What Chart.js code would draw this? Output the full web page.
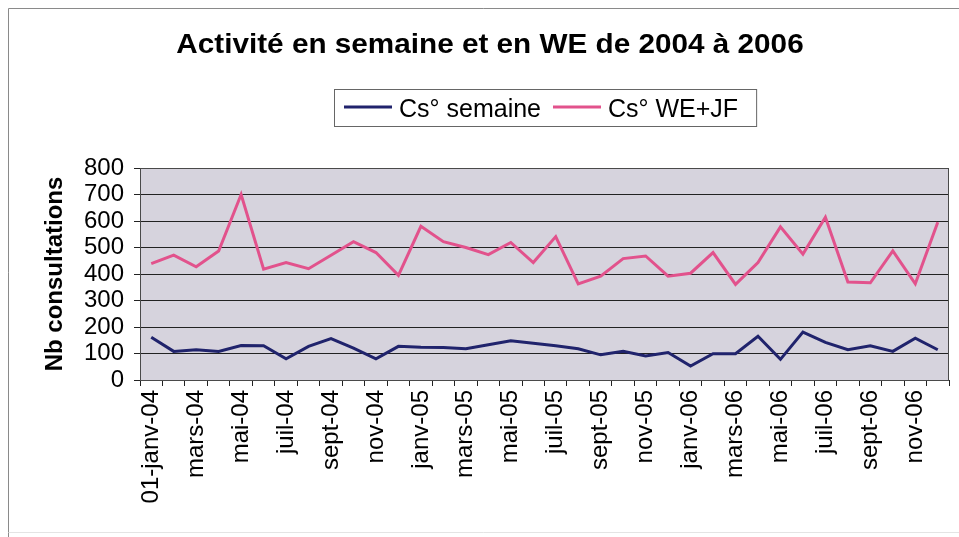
<!DOCTYPE html>
<html lang="fr">
<head>
<meta charset="utf-8">
<title>Activité en semaine et en WE de 2004 à 2006</title>
<script src="https://cdn.jsdelivr.net/npm/chart.js@4/dist/chart.umd.min.js"></script>
<style>
  html, body { margin: 0; padding: 0; background: #fff; }
  #zone-graphique { width: 959px; height: 537px; position: relative; }
</style>
</head>
<body>
<div id="zone-graphique"><canvas id="graphique"></canvas></div>
<script>
// Mois de janvier 2004 à décembre 2006 (un libellé sur deux est affiché)
const mois = [
  '01-janv-04', 'févr-04', 'mars-04', 'avr-04', 'mai-04', 'juin-04',
  'juil-04', 'août-04', 'sept-04', 'oct-04', 'nov-04', 'déc-04',
  'janv-05', 'févr-05', 'mars-05', 'avr-05', 'mai-05', 'juin-05',
  'juil-05', 'août-05', 'sept-05', 'oct-05', 'nov-05', 'déc-05',
  'janv-06', 'févr-06', 'mars-06', 'avr-06', 'mai-06', 'juin-06',
  'juil-06', 'août-06', 'sept-06', 'oct-06', 'nov-06', 'déc-06'
];

// Consultations en semaine
const csSemaine = [
  161, 108, 114, 108, 130, 129, 80, 127, 156, 120, 80, 127,
  124, 123, 118, 133, 148, 139, 129, 118, 95, 108, 91, 104,
  53, 99, 99, 165, 78, 181, 142, 114, 129, 108, 158, 114
];

// Consultations week-end + jours fériés
const csWeJf = [
  439, 471, 427, 487, 700, 418, 443, 420, 471, 522, 481, 395,
  580, 522, 500, 473, 519, 443, 541, 363, 392, 458, 468, 392,
  403, 481, 361, 443, 578, 475, 614, 370, 367, 487, 363, 595
];

// Graduations de l'axe vertical
const ticksY = [0, 100, 200, 300, 400, 500, 600, 700, 800];

const titre = 'Activité en semaine et en WE de 2004 à 2006';
const police = "'Liberation Sans', Arial, sans-serif";

// Fond de la zone de traçage, cadre, titre et légende encadrée (style Excel)
const decorExcel = {
  id: 'decorExcel',
  beforeDraw(chart) {
    const { ctx, chartArea: a } = chart;
    ctx.save();
    ctx.fillStyle = '#ffffff';
    ctx.fillRect(0, 0, chart.width, chart.height);
    // cadre extérieur
    ctx.strokeStyle = '#8a8a8a';
    ctx.lineWidth = 1;
    ctx.beginPath();
    ctx.moveTo(8.5, chart.height);
    ctx.lineTo(8.5, 8.5);
    ctx.lineTo(chart.width, 8.5);
    ctx.stroke();
    ctx.strokeStyle = '#e4e4e4';
    ctx.beginPath();
    ctx.moveTo(8.5, 532.5);
    ctx.lineTo(chart.width, 532.5);
    ctx.stroke();
    // fond gris de la zone de traçage
    ctx.fillStyle = '#d6d3dd';
    ctx.fillRect(a.left, a.top, a.right - a.left, a.bottom - a.top);
    ctx.restore();
  },
  afterDraw(chart) {
    const { ctx, chartArea: a } = chart;
    ctx.save();
    // bordure de la zone de traçage
    ctx.strokeStyle = '#4a4a4a';
    ctx.lineWidth = 1;
    ctx.strokeRect(a.left + 0.5, a.top + 0.5, a.right - a.left - 1, a.bottom - a.top);

    // titre, légèrement élargi
    ctx.save();
    ctx.translate(490, 53);
    ctx.scale(1.1, 1);
    ctx.fillStyle = '#000';
    ctx.font = 'bold 27px ' + police;
    ctx.textAlign = 'center';
    ctx.textBaseline = 'alphabetic';
    ctx.fillText(titre, 0, 0);
    ctx.restore();

    // légende : trait + libellé pour chaque série, dans un cadre
    ctx.font = '25px ' + police;
    ctx.textBaseline = 'alphabetic';
    const trait = 48, ecart = 7, entre = 12, margeG = 10, margeD = 18;
    const largeurs = chart.data.datasets.map(d => ctx.measureText(d.label).width);
    const total = largeurs.reduce((s, w) => s + trait + ecart + w, 0) + entre + margeG + margeD;
    const x0 = Math.round(545 - total / 2);
    const yMil = 107;
    ctx.strokeStyle = '#666';
    ctx.lineWidth = 1;
    ctx.strokeRect(x0 + 0.5, 89.5, total, 37);
    let x = x0 + margeG;
    chart.data.datasets.forEach((d, i) => {
      ctx.strokeStyle = d.borderColor;
      ctx.lineWidth = 3;
      ctx.beginPath();
      ctx.moveTo(x, yMil);
      ctx.lineTo(x + trait, yMil);
      ctx.stroke();
      x += trait + ecart;
      ctx.fillStyle = '#000';
      ctx.textAlign = 'left';
      ctx.fillText(d.label, x, 117);
      x += largeurs[i] + entre;
    });
    ctx.restore();
  }
};

new Chart(document.getElementById('graphique'), {
  type: 'line',
  data: {
    labels: mois,
    datasets: [
      {
        label: 'Cs° semaine',
        data: csSemaine,
        borderColor: '#20236c',
        borderWidth: 3,
        pointRadius: 0,
        tension: 0
      },
      {
        label: 'Cs° WE+JF',
        data: csWeJf,
        borderColor: '#e2528c',
        borderWidth: 3,
        pointRadius: 0,
        tension: 0
      }
    ]
  },
  options: {
    responsive: true,
    maintainAspectRatio: false,
    animation: false,
    layout: {
      autoPadding: false,
      padding: { top: 168, right: 10, bottom: 0, left: 0 }
    },
    plugins: {
      legend: { display: false },
      title: { display: false },
      tooltip: { enabled: false }
    },
    scales: {
      x: {
        offset: true,
        grid: {
          offset: true,
          drawOnChartArea: false,
          tickLength: 6,
          color: '#222'
        },
        border: { color: '#222', width: 1 },
        ticks: {
          autoSkip: false,
          maxRotation: 90,
          minRotation: 90,
          padding: 4,
          color: '#000',
          font: { family: police, size: 24 },
          // un mois sur deux, comme sur l'axe d'origine
          callback: (val, i) => (i % 2 === 0 ? mois[i] : '')
        },
        // hauteur fixe, et pas de marge ajoutée pour les libellés inclinés
        afterFit: s => {
          s.height = 157;
          s.paddingLeft = 0;
          s.paddingRight = 0;
        }
      },
      y: {
        min: 0,
        max: 800,
        afterBuildTicks: s => { s.ticks = ticksY.map(v => ({ value: v })); },
        grid: { color: '#222', tickLength: 6 },
        border: { color: '#222', width: 1 },
        ticks: {
          autoSkip: false,
          padding: 10,
          color: '#000',
          font: { family: police, size: 24 }
        },
        title: {
          display: true,
          text: 'Nb consultations',
          color: '#000',
          padding: { top: 41, bottom: 0 },
          font: { family: police, size: 24, weight: 'bold' }
        },
        afterFit: s => {
          s.width = 140;
          s.paddingTop = 0;
          s.paddingBottom = 0;
        }
      }
    }
  },
  plugins: [decorExcel]
});
</script>
</body>
</html>
